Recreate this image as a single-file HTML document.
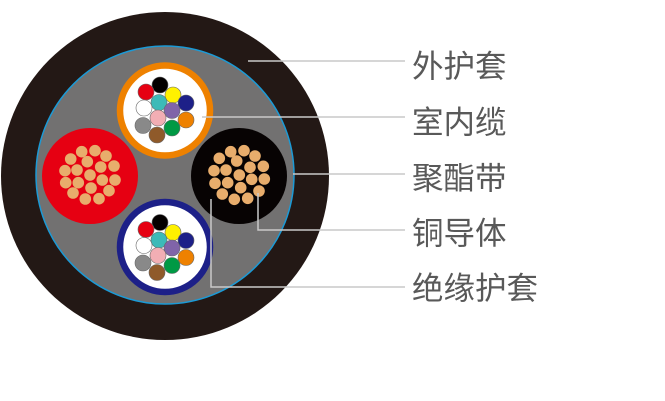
<!DOCTYPE html>
<html><head><meta charset="utf-8"><style>body{margin:0;background:#fff}svg{display:block}</style></head><body>
<svg width="665" height="401" viewBox="0 0 665 401" xmlns="http://www.w3.org/2000/svg">
<circle cx="165" cy="176" r="164" fill="#231815"/>
<circle cx="165" cy="175" r="129" fill="#727171" stroke="#1b9ad6" stroke-width="1.5"/>
<circle cx="90" cy="176" r="48" fill="#e60012"/>
<g fill="#e8ad6c">
<circle cx="70.7" cy="159" r="5.8"/><circle cx="81.7" cy="151.7" r="5.8"/><circle cx="95" cy="150.7" r="5.8"/><circle cx="106" cy="156" r="5.8"/><circle cx="87.3" cy="161.7" r="5.8"/><circle cx="65" cy="170.7" r="5.8"/><circle cx="77" cy="170" r="5.8"/><circle cx="100.7" cy="167" r="5.8"/><circle cx="114" cy="166" r="5.8"/><circle cx="90" cy="175" r="5.8"/><circle cx="65.7" cy="182.7" r="5.8"/><circle cx="78.3" cy="182.7" r="5.8"/><circle cx="102.3" cy="180" r="5.8"/><circle cx="115" cy="180" r="5.8"/><circle cx="91" cy="188" r="5.8"/><circle cx="73" cy="193" r="5.8"/><circle cx="109" cy="190.7" r="5.8"/><circle cx="85.3" cy="199" r="5.8"/><circle cx="99" cy="198.7" r="5.8"/>
</g>
<circle cx="239" cy="176" r="48" fill="#070303"/>
<g fill="#e8ad6c">
<circle cx="230.7" cy="151.7" r="5.8"/><circle cx="244" cy="150.7" r="5.8"/><circle cx="219.3" cy="158.3" r="5.8"/><circle cx="236.7" cy="161" r="5.8"/><circle cx="255" cy="156" r="5.8"/><circle cx="214" cy="170.7" r="5.8"/><circle cx="226" cy="170" r="5.8"/><circle cx="250" cy="167.3" r="5.8"/><circle cx="263.3" cy="166.3" r="5.8"/><circle cx="239.3" cy="175" r="5.8"/><circle cx="215" cy="183.3" r="5.8"/><circle cx="227.7" cy="182.7" r="5.8"/><circle cx="251.7" cy="179.3" r="5.8"/><circle cx="264.3" cy="179" r="5.8"/><circle cx="240.7" cy="187.7" r="5.8"/><circle cx="222.3" cy="194" r="5.8"/><circle cx="259" cy="191" r="5.8"/><circle cx="234.3" cy="199.3" r="5.8"/><circle cx="247.7" cy="198.3" r="5.8"/>
</g>
<defs>
<g id="cores" stroke="#666" stroke-width="0.6">
<circle cx="-5" cy="-25.5" r="8" fill="#040000"/>
<circle cx="-19" cy="-18.5" r="8" fill="#e60012"/>
<circle cx="8" cy="-15.5" r="8" fill="#fff100"/>
<circle cx="-6" cy="-8" r="8" fill="#3cbab8"/>
<circle cx="21" cy="-7.5" r="8" fill="#1d2088"/>
<circle cx="-21" cy="-2.5" r="8" fill="#fff"/>
<circle cx="7" cy="0" r="8" fill="#8064a9"/>
<circle cx="-7" cy="7.5" r="8" fill="#f2aeb4"/>
<circle cx="21" cy="9.5" r="8" fill="#ee8100"/>
<circle cx="-22" cy="15" r="8" fill="#898989"/>
<circle cx="7" cy="17.5" r="8" fill="#009944"/>
<circle cx="-8" cy="24.5" r="8" fill="#8f5a2a"/>
</g>
</defs>
<circle cx="165" cy="110.5" r="45" fill="#fff" stroke="#ee8100" stroke-width="6.5"/>
<use href="#cores" x="165" y="110.5"/>
<circle cx="165" cy="247" r="45" fill="#fff" stroke="#1d2088" stroke-width="6.5"/>
<use href="#cores" x="165" y="248"/>
<g stroke="#c9c9c9" stroke-width="1.5" fill="none">
<path d="M248 61H405"/>
<path d="M202 117H405"/>
<path d="M293 174H405"/>
<path d="M258 193V230H405"/>
<path d="M211 199V287H405"/>
</g>
<g font-family="Liberation Sans, Noto Sans CJK SC, sans-serif" font-size="31.5" fill="#595959">
<text x="412" y="77">外护套</text>
<text x="412" y="133">室内缆</text>
<text x="412" y="189">聚酯带</text>
<text x="412" y="244">铜导体</text>
<text x="412" y="299">绝缘护套</text>
</g>
</svg>
</body></html>
